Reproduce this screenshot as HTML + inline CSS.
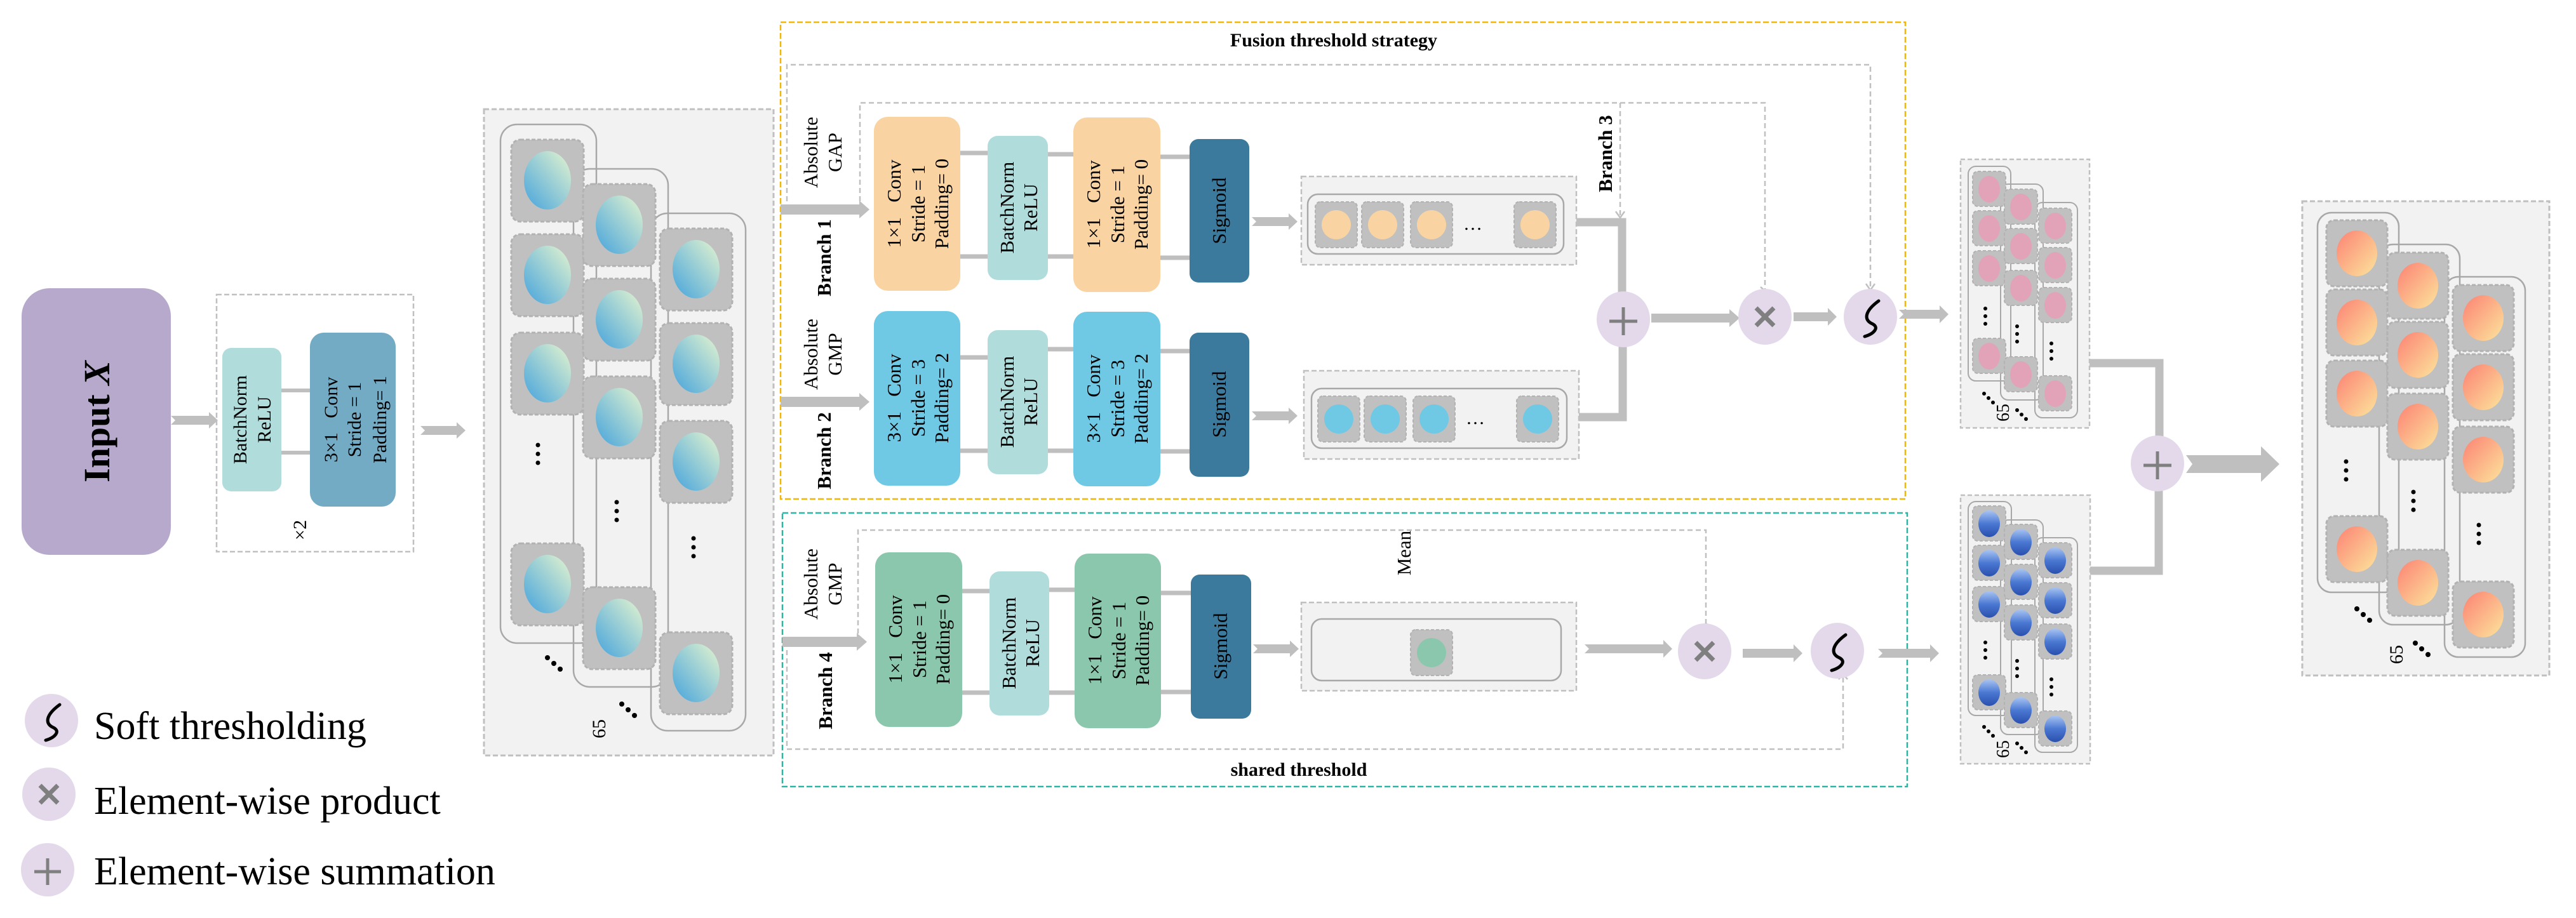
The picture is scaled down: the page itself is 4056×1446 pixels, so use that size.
<!DOCTYPE html>
<html><head><meta charset="utf-8"><style>
html,body{margin:0;padding:0;background:#fff;}
svg{display:block;}
svg text{font-family:"Liberation Serif","DejaVu Serif","Times New Roman",serif !important;fill:#000;}
</style></head><body>
<svg width="4056" height="1446" viewBox="0 0 4056 1446" xmlns="http://www.w3.org/2000/svg" font-family="Liberation Serif, DejaVu Serif, serif">
<defs>
<linearGradient id="gc" x1="1" y1="0" x2="0" y2="1"><stop offset="0" stop-color="#e6f5cf"/><stop offset="1" stop-color="#45a3dc"/></linearGradient>
<linearGradient id="go" x1="0" y1="0" x2="1" y2="1"><stop offset="0" stop-color="#fb8274"/><stop offset="1" stop-color="#fde59c"/></linearGradient>
<linearGradient id="gb" x1="0" y1="0" x2="0" y2="1"><stop offset="0" stop-color="#a9c4f2"/><stop offset="0.5" stop-color="#4a78d2"/><stop offset="1" stop-color="#2a4fae"/></linearGradient>
<g id="T1"><rect x="-57" y="-64" width="114" height="129" rx="14" fill="#c0c0c0" stroke="#b2b2b2" stroke-width="3" stroke-dasharray="6 3"/><ellipse rx="37" ry="46" fill="url(#gc)"/></g>
<g id="T2"><rect x="-26" y="-28" width="52" height="55" rx="8" fill="#c0c0c0" stroke="#b2b2b2" stroke-width="2" stroke-dasharray="5 3"/><ellipse rx="17" ry="21" fill="#e2a2b8"/></g>
<g id="T3"><rect x="-26" y="-28" width="52" height="55" rx="8" fill="#c0c0c0" stroke="#b2b2b2" stroke-width="2" stroke-dasharray="5 3"/><ellipse rx="17" ry="21" fill="url(#gb)"/></g>
<g id="T4"><rect x="-48" y="-52" width="96" height="104" rx="12" fill="#c0c0c0" stroke="#b2b2b2" stroke-width="3" stroke-dasharray="6 3"/><ellipse rx="32" ry="36" fill="url(#go)"/></g>
<g id="T5"><rect x="-33" y="-36" width="66" height="72" rx="8" fill="#c0c0c0" stroke="#b2b2b2" stroke-width="2" stroke-dasharray="5 3"/><circle r="23"/></g>
</defs>

<rect x="34" y="454" width="235" height="420" rx="44" fill="#b7a9cc"/>
<text transform="translate(172,664) rotate(-90)" text-anchor="middle" font-size="58" font-weight="bold">Input <tspan font-style="italic">X</tspan></text>
<polygon points="269,655 329,655 329,649 343,662 329,675 329,669 269,669 276,662" fill="#bfbfbf"/>

<rect x="341" y="464" width="310" height="405" fill="none" stroke="#c0c0c0" stroke-width="2.5" stroke-dasharray="8 4"/>
<rect x="350" y="548" width="93" height="226" rx="14" fill="#b1dcdc"/>
<rect x="488" y="524" width="135" height="274" rx="22" fill="#73abc5"/>
<line x1="443" y1="615" x2="488" y2="615" stroke="#bfbfbf" stroke-width="6"/>
<line x1="443" y1="713" x2="488" y2="713" stroke="#bfbfbf" stroke-width="6"/>
<text transform="translate(397,661) rotate(-90)" text-anchor="middle" font-size="30"><tspan x="0" y="-9">BatchNorm</tspan><tspan x="0" y="29">ReLU</tspan></text>
<text transform="translate(558,661) rotate(-90)" text-anchor="middle" font-size="30"><tspan x="0" y="-27">3×1&#160;&#160;&#160;Conv</tspan><tspan x="0" y="10">Stride = 1</tspan><tspan x="0" y="50">Padding= 1</tspan></text>
<text transform="translate(482,835) rotate(-90)" text-anchor="middle" font-size="30">×2</text>
<polygon points="662,671 719,671 719,665 733,678 719,691 719,685 662,685 669,678" fill="#bfbfbf"/>

<rect x="762" y="172" width="456" height="1018" fill="#f2f2f2" stroke="#c0c0c0" stroke-width="3" stroke-dasharray="8 4"/>
<rect x="788" y="196" width="151" height="817" rx="26" fill="none" stroke="#a8a8a8" stroke-width="2.5"/>
<rect x="903" y="266" width="149" height="816" rx="26" fill="none" stroke="#a8a8a8" stroke-width="2.5"/>
<rect x="1025" y="336" width="149" height="815" rx="26" fill="none" stroke="#a8a8a8" stroke-width="2.5"/>
<use href="#T1" x="862" y="284"/><use href="#T1" x="862" y="433"/><use href="#T1" x="862" y="588"/><use href="#T1" x="862" y="920"/>
<use href="#T1" x="975" y="354"/><use href="#T1" x="975" y="503"/><use href="#T1" x="975" y="657"/><use href="#T1" x="975" y="989"/>
<use href="#T1" x="1096" y="424"/><use href="#T1" x="1096" y="573"/><use href="#T1" x="1096" y="727"/><use href="#T1" x="1096" y="1060"/>
<g fill="#000">
<circle cx="847" cy="701" r="3.5"/><circle cx="847" cy="715" r="3.5"/><circle cx="847" cy="729" r="3.5"/>
<circle cx="971" cy="791" r="3.5"/><circle cx="971" cy="805" r="3.5"/><circle cx="971" cy="819" r="3.5"/>
<circle cx="1092" cy="848" r="3.5"/><circle cx="1092" cy="862" r="3.5"/><circle cx="1092" cy="876" r="3.5"/>
<circle cx="862" cy="1036" r="4"/><circle cx="872" cy="1045" r="4"/><circle cx="882" cy="1054" r="4"/>
<circle cx="979" cy="1109" r="4"/><circle cx="989" cy="1118" r="4"/><circle cx="999" cy="1127" r="4"/>
</g>
<text transform="translate(953,1148) rotate(-90)" text-anchor="middle" font-size="30">65</text>

<circle cx="81" cy="1135" r="42" fill="#e3d9eb"/>
<path d="M94,1110 C72,1126 70,1140 84,1146 C96,1152 86,1162 72,1166" fill="none" stroke="#000" stroke-width="5" stroke-linecap="round"/>
<text x="148" y="1164" font-size="62">Soft thresholding</text>
<circle cx="77" cy="1251" r="42" fill="#e3d9eb"/>
<path d="M63,1237 L91,1265 M91,1237 L63,1265" stroke="#7f7f7f" stroke-width="7"/>
<text x="148" y="1282" font-size="62">Element-wise product</text>
<circle cx="75" cy="1370" r="42" fill="#e3d9eb"/>
<path d="M54,1373 L96,1373 M75,1352 L75,1394" stroke="#7f7f7f" stroke-width="5"/>
<text x="148" y="1393" font-size="62">Element-wise summation</text>

<rect x="1229" y="35" width="1771" height="751" fill="none" stroke="#f2b705" stroke-width="2.5" stroke-dasharray="9 4"/>
<text x="2100" y="73" text-anchor="middle" font-size="30" font-weight="bold">Fusion threshold strategy</text>
<rect x="1232" y="808" width="1771" height="431" fill="none" stroke="#2ab5a5" stroke-width="2.5" stroke-dasharray="9 4"/>
<text x="2045" y="1222" text-anchor="middle" font-size="30" font-weight="bold">shared threshold</text>

<g fill="none" stroke="#c0c0c0" stroke-width="2.5" stroke-dasharray="8 5">
<polyline points="1239,330 1239,102 2945,102 2945,455"/>
<polyline points="1354,330 1354,162 2779,162 2779,455"/>
<polyline points="2551,162 2551,341"/>
<polyline points="1351,1011 1351,835 2686,835 2686,985"/>
<polyline points="1239,1011 1239,1180 2902,1180 2902,1066"/>
</g>
<g fill="none" stroke="#c0c0c0" stroke-width="2.5">
<polyline points="2938,447 2945,457 2952,447"/>
<polyline points="2772,452 2779,458 2772,462"/>
<polyline points="2544,333 2551,343 2558,333"/>
<polyline points="2679,987 2686,982 2693,987"/>
<polyline points="2895,1070 2902,1062 2909,1070"/>
</g>

<polygon points="1229,322 1353,322 1353,316 1369,330 1353,344 1353,338 1229,338" fill="#bfbfbf"/>
<polygon points="1229,625 1353,625 1353,619 1369,633 1353,647 1353,641 1229,641" fill="#bfbfbf"/>
<polygon points="1232,1003 1349,1003 1349,997 1365,1011 1349,1025 1349,1019 1232,1019" fill="#bfbfbf"/>
<text transform="translate(1296,240) rotate(-90)" text-anchor="middle" font-size="31"><tspan x="0" y="-9">Absolute</tspan><tspan x="0" y="29">GAP</tspan></text>
<text transform="translate(1308,406) rotate(-90)" text-anchor="middle" font-size="31" font-weight="bold">Branch 1</text>
<text transform="translate(1296,558) rotate(-90)" text-anchor="middle" font-size="31"><tspan x="0" y="-9">Absolute</tspan><tspan x="0" y="29">GMP</tspan></text>
<text transform="translate(1308,710) rotate(-90)" text-anchor="middle" font-size="31" font-weight="bold">Branch 2</text>
<text transform="translate(1296,920) rotate(-90)" text-anchor="middle" font-size="31"><tspan x="0" y="-9">Absolute</tspan><tspan x="0" y="29">GMP</tspan></text>
<text transform="translate(1310,1088) rotate(-90)" text-anchor="middle" font-size="31" font-weight="bold">Branch 4</text>
<text transform="translate(2538,242) rotate(-90)" text-anchor="middle" font-size="31" font-weight="bold">Branch 3</text>
<text transform="translate(2221,871) rotate(-90)" text-anchor="middle" font-size="31">Mean</text>

<g stroke="#bfbfbf" stroke-width="7">
<line x1="1512" y1="241" x2="1555" y2="241"/><line x1="1512" y1="404" x2="1555" y2="404"/>
<line x1="1650" y1="243" x2="1690" y2="243"/><line x1="1650" y1="404" x2="1690" y2="404"/>
<line x1="1827" y1="247" x2="1873" y2="247"/><line x1="1827" y1="406" x2="1873" y2="406"/>
<line x1="1512" y1="563" x2="1555" y2="563"/><line x1="1512" y1="710" x2="1555" y2="710"/>
<line x1="1650" y1="550" x2="1690" y2="550"/><line x1="1650" y1="710" x2="1690" y2="710"/>
<line x1="1827" y1="553" x2="1873" y2="553"/><line x1="1827" y1="711" x2="1873" y2="711"/>
<line x1="1515" y1="931" x2="1558" y2="931"/><line x1="1515" y1="1091" x2="1558" y2="1091"/>
<line x1="1652" y1="929" x2="1692" y2="929"/><line x1="1652" y1="1091" x2="1692" y2="1091"/>
<line x1="1828" y1="934" x2="1875" y2="934"/><line x1="1828" y1="1090" x2="1875" y2="1090"/>
</g>

<rect x="1376" y="184" width="136" height="274" rx="22" fill="#f9d4a2"/>
<rect x="1555" y="214" width="95" height="227" rx="16" fill="#b1dcdc"/>
<rect x="1690" y="185" width="137" height="275" rx="22" fill="#f9d4a2"/>
<rect x="1873" y="219" width="94" height="226" rx="14" fill="#3c7a9d"/>
<text transform="translate(1444,321) rotate(-90)" text-anchor="middle" font-size="31"><tspan x="0" y="-26">1×1&#160;&#160;&#160;Conv</tspan><tspan x="0" y="12">Stride = 1</tspan><tspan x="0" y="49">Padding= 0</tspan></text>
<text transform="translate(1602,327) rotate(-90)" text-anchor="middle" font-size="31"><tspan x="0" y="-6">BatchNorm</tspan><tspan x="0" y="31">ReLU</tspan></text>
<text transform="translate(1758,322) rotate(-90)" text-anchor="middle" font-size="31"><tspan x="0" y="-26">1×1&#160;&#160;&#160;Conv</tspan><tspan x="0" y="12">Stride = 1</tspan><tspan x="0" y="49">Padding= 0</tspan></text>
<text transform="translate(1920,332) rotate(-90)" text-anchor="middle" font-size="31"><tspan x="0" y="10">Sigmoid</tspan></text>

<rect x="1376" y="490" width="136" height="275" rx="22" fill="#6fc8e4"/>
<rect x="1555" y="520" width="95" height="227" rx="16" fill="#b1dcdc"/>
<rect x="1690" y="491" width="137" height="275" rx="22" fill="#6fc8e4"/>
<rect x="1873" y="524" width="94" height="227" rx="14" fill="#3c7a9d"/>
<text transform="translate(1444,627) rotate(-90)" text-anchor="middle" font-size="31"><tspan x="0" y="-26">3×1&#160;&#160;&#160;Conv</tspan><tspan x="0" y="12">Stride = 3</tspan><tspan x="0" y="49">Padding= 2</tspan></text>
<text transform="translate(1602,633) rotate(-90)" text-anchor="middle" font-size="31"><tspan x="0" y="-6">BatchNorm</tspan><tspan x="0" y="31">ReLU</tspan></text>
<text transform="translate(1758,628) rotate(-90)" text-anchor="middle" font-size="31"><tspan x="0" y="-26">3×1&#160;&#160;&#160;Conv</tspan><tspan x="0" y="12">Stride = 3</tspan><tspan x="0" y="49">Padding= 2</tspan></text>
<text transform="translate(1920,637) rotate(-90)" text-anchor="middle" font-size="31"><tspan x="0" y="10">Sigmoid</tspan></text>

<rect x="1378" y="870" width="137" height="275" rx="22" fill="#8bc7ad"/>
<rect x="1558" y="900" width="94" height="227" rx="16" fill="#b1dcdc"/>
<rect x="1692" y="872" width="136" height="275" rx="22" fill="#8bc7ad"/>
<rect x="1875" y="905" width="95" height="227" rx="14" fill="#3c7a9d"/>
<text transform="translate(1446,1007) rotate(-90)" text-anchor="middle" font-size="31"><tspan x="0" y="-26">1×1&#160;&#160;&#160;Conv</tspan><tspan x="0" y="12">Stride = 1</tspan><tspan x="0" y="49">Padding= 0</tspan></text>
<text transform="translate(1605,1013) rotate(-90)" text-anchor="middle" font-size="31"><tspan x="0" y="-6">BatchNorm</tspan><tspan x="0" y="31">ReLU</tspan></text>
<text transform="translate(1760,1009) rotate(-90)" text-anchor="middle" font-size="31"><tspan x="0" y="-26">1×1&#160;&#160;&#160;Conv</tspan><tspan x="0" y="12">Stride = 1</tspan><tspan x="0" y="49">Padding= 0</tspan></text>
<text transform="translate(1922,1018) rotate(-90)" text-anchor="middle" font-size="31"><tspan x="0" y="10">Sigmoid</tspan></text>

<polygon points="1971,342 2029,342 2029,336 2043,349 2029,362 2029,356 1971,356 1978,349" fill="#bfbfbf"/>
<polygon points="1971,648 2029,648 2029,642 2043,655 2029,668 2029,662 1971,662 1978,655" fill="#bfbfbf"/>
<polygon points="1973,1015 2031,1015 2031,1009 2045,1022 2031,1035 2031,1029 1973,1029 1980,1022" fill="#bfbfbf"/>

<rect x="2049" y="278" width="433" height="139" fill="#f2f2f2" stroke="#c0c0c0" stroke-width="2.5" stroke-dasharray="8 4"/>
<rect x="2059" y="306" width="403" height="94" rx="16" fill="#f2f2f2" stroke="#a8a8a8" stroke-width="2.5"/>
<use href="#T5" x="2104" y="354" fill="#f9d4a2"/><use href="#T5" x="2177" y="354" fill="#f9d4a2"/><use href="#T5" x="2254" y="354" fill="#f9d4a2"/><use href="#T5" x="2417" y="354" fill="#f9d4a2"/>
<text x="2319" y="362" text-anchor="middle" font-size="30">…</text>
<rect x="2053" y="584" width="433" height="139" fill="#f2f2f2" stroke="#c0c0c0" stroke-width="2.5" stroke-dasharray="8 4"/>
<rect x="2065" y="612" width="402" height="94" rx="16" fill="#f2f2f2" stroke="#a8a8a8" stroke-width="2.5"/>
<use href="#T5" x="2108" y="660" fill="#6fc8e4"/><use href="#T5" x="2181" y="660" fill="#6fc8e4"/><use href="#T5" x="2258" y="660" fill="#6fc8e4"/><use href="#T5" x="2421" y="660" fill="#6fc8e4"/>
<text x="2323" y="668" text-anchor="middle" font-size="30">…</text>
<rect x="2049" y="949" width="433" height="139" fill="#f2f2f2" stroke="#c0c0c0" stroke-width="2.5" stroke-dasharray="8 4"/>
<rect x="2065" y="975" width="393" height="97" rx="16" fill="#f2f2f2" stroke="#a8a8a8" stroke-width="2.5"/>
<use href="#T5" x="2254" y="1028" fill="#8bc7ad"/>

<g fill="none" stroke="#bfbfbf" stroke-width="13">
<polyline points="2482,350 2554,350 2554,465"/>
<polyline points="2486,657 2555,657 2555,540"/>
<polyline points="3290,572 3400,572 3400,695"/>
<polyline points="3291,899 3399,899 3399,765"/>
</g>

<ellipse cx="2556" cy="503" rx="42" ry="44" fill="#e3d9eb"/>
<path d="M2534,506 L2578,506 M2556,484 L2556,528" stroke="#7f7f7f" stroke-width="5"/>
<polygon points="2600,494 2723,494 2723,487 2739,501 2723,515 2723,508 2600,508" fill="#bfbfbf"/>
<ellipse cx="2779" cy="499" rx="42" ry="44" fill="#e3d9eb"/>
<path d="M2765,485 L2793,513 M2793,485 L2765,513" stroke="#7f7f7f" stroke-width="7"/>
<polygon points="2824,492 2878,492 2878,485 2892,499 2878,513 2878,506 2824,506" fill="#bfbfbf"/>
<ellipse cx="2945" cy="499" rx="42" ry="44" fill="#e3d9eb"/>
<path d="M2958,474 C2936,490 2934,504 2948,510 C2960,516 2950,526 2936,530" fill="none" stroke="#000" stroke-width="5" stroke-linecap="round"/>
<polygon points="2990,488 3054,488 3054,481 3068,495 3054,509 3054,502 2990,502 2997,495" fill="#bfbfbf"/>

<polygon points="2495,1015 2619,1015 2619,1008 2633,1022 2619,1036 2619,1029 2495,1029 2502,1022" fill="#bfbfbf"/>
<ellipse cx="2684" cy="1026" rx="42" ry="44" fill="#e3d9eb"/>
<path d="M2670,1012 L2698,1040 M2698,1012 L2670,1040" stroke="#7f7f7f" stroke-width="7"/>
<polygon points="2744,1022 2824,1022 2824,1015 2838,1029 2824,1043 2824,1036 2744,1036" fill="#bfbfbf"/>
<ellipse cx="2893" cy="1025" rx="42" ry="44" fill="#e3d9eb"/>
<path d="M2906,1000 C2884,1016 2882,1030 2896,1036 C2908,1042 2898,1052 2884,1056" fill="none" stroke="#000" stroke-width="5" stroke-linecap="round"/>
<polygon points="2957,1022 3039,1022 3039,1015 3053,1029 3039,1043 3039,1036 2957,1036 2964,1029" fill="#bfbfbf"/>

<rect x="3087" y="251" width="203" height="423" fill="#f2f2f2" stroke="#c0c0c0" stroke-width="2.5" stroke-dasharray="7 4"/>
<rect x="3099" y="262" width="67" height="338" rx="12" fill="none" stroke="#a8a8a8" stroke-width="2"/>
<rect x="3150" y="290" width="67" height="340" rx="12" fill="none" stroke="#a8a8a8" stroke-width="2"/>
<rect x="3204" y="319" width="67" height="339" rx="12" fill="none" stroke="#a8a8a8" stroke-width="2"/>
<use href="#T2" x="3132" y="298"/><use href="#T2" x="3132" y="360"/><use href="#T2" x="3132" y="423"/><use href="#T2" x="3132" y="561"/>
<use href="#T2" x="3182" y="326"/><use href="#T2" x="3182" y="388"/><use href="#T2" x="3182" y="454"/><use href="#T2" x="3182" y="590"/>
<use href="#T2" x="3236" y="356"/><use href="#T2" x="3236" y="418"/><use href="#T2" x="3236" y="481"/><use href="#T2" x="3236" y="620"/>
<g fill="#000">
<circle cx="3126" cy="486" r="3"/><circle cx="3126" cy="498" r="3"/><circle cx="3126" cy="510" r="3"/>
<circle cx="3176" cy="514" r="3"/><circle cx="3176" cy="526" r="3"/><circle cx="3176" cy="538" r="3"/>
<circle cx="3230" cy="541" r="3"/><circle cx="3230" cy="553" r="3"/><circle cx="3230" cy="565" r="3"/>
<circle cx="3124" cy="620" r="3"/><circle cx="3131" cy="627" r="3"/><circle cx="3138" cy="634" r="3"/>
<circle cx="3176" cy="646" r="3"/><circle cx="3183" cy="653" r="3"/><circle cx="3190" cy="660" r="3"/>
</g>
<text transform="translate(3163,650) rotate(-90)" text-anchor="middle" font-size="28">65</text>

<rect x="3087" y="780" width="204" height="423" fill="#f2f2f2" stroke="#c0c0c0" stroke-width="2.5" stroke-dasharray="7 4"/>
<rect x="3099" y="790" width="68" height="337" rx="12" fill="none" stroke="#a8a8a8" stroke-width="2"/>
<rect x="3150" y="819" width="67" height="338" rx="12" fill="none" stroke="#a8a8a8" stroke-width="2"/>
<rect x="3204" y="847" width="67" height="338" rx="12" fill="none" stroke="#a8a8a8" stroke-width="2"/>
<use href="#T3" x="3132" y="825"/><use href="#T3" x="3132" y="887"/><use href="#T3" x="3132" y="952"/><use href="#T3" x="3132" y="1091"/>
<use href="#T3" x="3182" y="854"/><use href="#T3" x="3182" y="917"/><use href="#T3" x="3182" y="981"/><use href="#T3" x="3182" y="1119"/>
<use href="#T3" x="3236" y="883"/><use href="#T3" x="3236" y="946"/><use href="#T3" x="3236" y="1011"/><use href="#T3" x="3236" y="1148"/>
<g fill="#000">
<circle cx="3126" cy="1012" r="3"/><circle cx="3126" cy="1024" r="3"/><circle cx="3126" cy="1036" r="3"/>
<circle cx="3176" cy="1041" r="3"/><circle cx="3176" cy="1053" r="3"/><circle cx="3176" cy="1065" r="3"/>
<circle cx="3230" cy="1070" r="3"/><circle cx="3230" cy="1082" r="3"/><circle cx="3230" cy="1094" r="3"/>
<circle cx="3124" cy="1145" r="3"/><circle cx="3131" cy="1152" r="3"/><circle cx="3138" cy="1159" r="3"/>
<circle cx="3176" cy="1171" r="3"/><circle cx="3183" cy="1178" r="3"/><circle cx="3190" cy="1185" r="3"/>
</g>
<text transform="translate(3163,1180) rotate(-90)" text-anchor="middle" font-size="28">65</text>

<ellipse cx="3397" cy="730" rx="42" ry="44" fill="#e3d9eb"/>
<path d="M3375,733 L3419,733 M3397,711 L3397,755" stroke="#7f7f7f" stroke-width="5"/>
<polygon points="3442,717 3560,717 3560,703 3589,731 3560,759 3560,745 3442,745 3452,731" fill="#bfbfbf"/>

<rect x="3625" y="317" width="389" height="747" fill="#f2f2f2" stroke="#c0c0c0" stroke-width="3" stroke-dasharray="8 4"/>
<rect x="3649" y="335" width="128" height="598" rx="22" fill="none" stroke="#a8a8a8" stroke-width="2.5"/>
<rect x="3746" y="385" width="127" height="599" rx="22" fill="none" stroke="#a8a8a8" stroke-width="2.5"/>
<rect x="3849" y="436" width="127" height="599" rx="22" fill="none" stroke="#a8a8a8" stroke-width="2.5"/>
<use href="#T4" x="3711" y="399"/><use href="#T4" x="3711" y="508"/><use href="#T4" x="3711" y="620"/><use href="#T4" x="3711" y="865"/>
<use href="#T4" x="3807" y="450"/><use href="#T4" x="3807" y="559"/><use href="#T4" x="3807" y="672"/><use href="#T4" x="3807" y="918"/>
<use href="#T4" x="3910" y="501"/><use href="#T4" x="3910" y="610"/><use href="#T4" x="3910" y="724"/><use href="#T4" x="3910" y="968"/>
<g fill="#000">
<circle cx="3694" cy="727" r="3.5"/><circle cx="3694" cy="741" r="3.5"/><circle cx="3694" cy="755" r="3.5"/>
<circle cx="3800" cy="775" r="3.5"/><circle cx="3800" cy="789" r="3.5"/><circle cx="3800" cy="803" r="3.5"/>
<circle cx="3903" cy="827" r="3.5"/><circle cx="3903" cy="841" r="3.5"/><circle cx="3903" cy="855" r="3.5"/>
<circle cx="3711" cy="959" r="4"/><circle cx="3721" cy="968" r="4"/><circle cx="3731" cy="977" r="4"/>
<circle cx="3803" cy="1013" r="4"/><circle cx="3813" cy="1022" r="4"/><circle cx="3823" cy="1031" r="4"/>
</g>
<text transform="translate(3783,1031) rotate(-90)" text-anchor="middle" font-size="30">65</text>
</svg>
</body></html>
